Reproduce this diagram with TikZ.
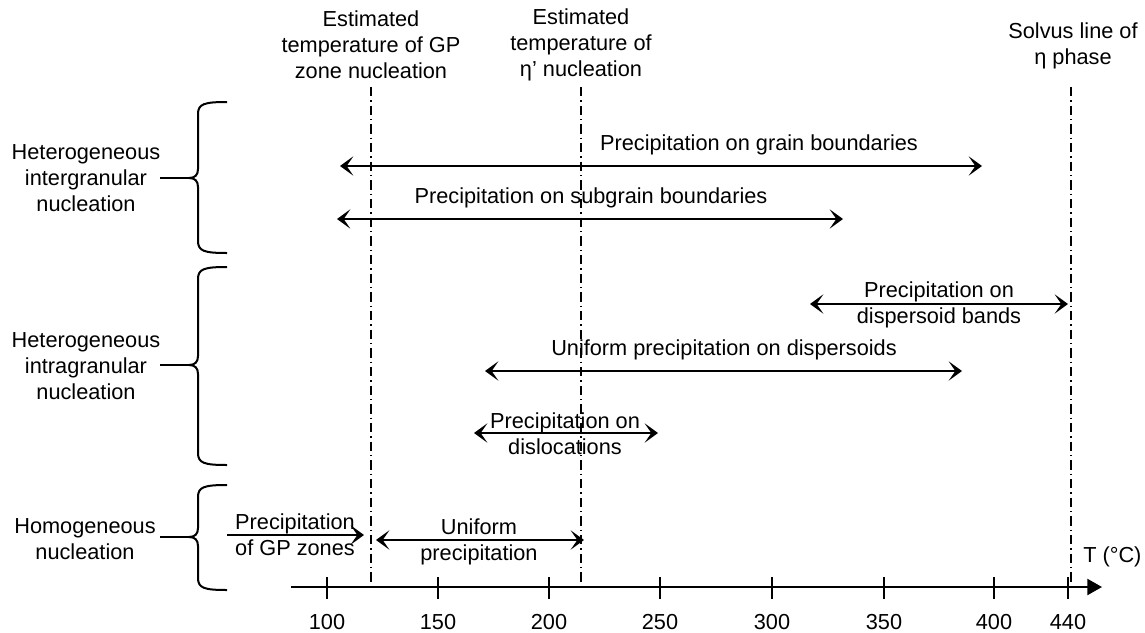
\documentclass[tikz,border=0pt]{standalone}
\usepackage{fontspec}
\setmainfont{Liberation Sans}
\usetikzlibrary{arrows.meta}
\tikzset{
  lbl/.style={align=center,inner sep=0pt,font=\fontsize{16.3}{19.5}\selectfont},
  tipA/.tip={Stealth[length=10pt,width=14.5pt,inset=5pt]},
  parr/.style={line width=1.6pt,tipA-tipA},
  rarr/.style={line width=1.6pt,-tipA},
  axisline/.style={line width=1.6pt,-{Triangle[length=11pt,width=12pt]}},
  tickline/.style={line width=1.4pt},
  guide/.style={line width=1.2pt,dash pattern=on 7pt off 3pt on 1pt off 3pt},
  bracestyle/.style={line width=1.5pt,line join=round}
}
\newcommand\mybrace[3]{%
  \draw[bracestyle] (227,#1) .. controls (204,#1) and (198,#1+2) .. (198,#1+12)
    -- (198,#2-9) .. controls (198,#2-3) and (195,#2) .. (189,#2)
    .. controls (195,#2) and (198,#2+3) .. (198,#2+9)
    -- (198,#3-12) .. controls (198,#3-2) and (204,#3) .. (227,#3);
  \draw[bracestyle] (160,#2) -- (190,#2);}
\begin{document}
\begin{tikzpicture}[x=0.75pt,y=-0.75pt]
\useasboundingbox (0,0) rectangle (1145,632);
% top labels
\node[lbl] (gpT) at (371,45) {Estimated\\temperature of GP\\zone nucleation};
\node[lbl] (etaT) at (581,45) {Estimated\\temperature of\\η’ nucleation};
\node[lbl] (solT) at (1073,46) {Solvus line of\\η phase};
% guide lines
\coordinate (gpA) at (371,87); \coordinate (gpB) at (371,587);
\coordinate (etaA) at (581,87); \coordinate (etaB) at (581,587);
\coordinate (solA) at (1071,87); \coordinate (solB) at (1071,587);
\draw[guide] (gpA) -- (gpB);
\draw[guide] (etaA) -- (etaB);
\draw[guide] (solA) -- (solB);
% braces and left labels
\mybrace{102}{178}{253}
\mybrace{267}{365}{465}
\mybrace{485}{537}{590}
\node[lbl] (inter) at (86,178) {Heterogeneous\\intergranular\\nucleation};
\node[lbl] (intra) at (86,366) {Heterogeneous\\intragranular\\nucleation};
\node[lbl] (homo) at (85,539) {Homogeneous\\nucleation};
% arrows
\coordinate (g1) at (340,166); \coordinate (g2) at (982,166);
\draw[parr] (g1) -- (g2);
\node[lbl] (gL) at (759,145) {Precipitation on grain boundaries};
\coordinate (s1) at (337,219); \coordinate (s2) at (843,219);
\draw[parr] (s1) -- (s2);
\node[lbl] (sL) at (591,198) {Precipitation on subgrain boundaries};
\coordinate (d1) at (810,304); \coordinate (d2) at (1068,304);
\draw[parr] (d1) -- (d2);
\node[lbl] (dL) at (939,304.5) {Precipitation on\\dispersoid bands};
\coordinate (u1) at (485,371); \coordinate (u2) at (962,371);
\draw[parr] (u1) -- (u2);
\node[lbl] (uL) at (724,350) {Uniform precipitation on dispersoids};
\coordinate (l1) at (474,433); \coordinate (l2) at (658,433);
\draw[parr] (l1) -- (l2);
\node[lbl] (lL) at (565,434) {Precipitation on\\dislocations};
\coordinate (p1) at (227,535); \coordinate (p2) at (364,535);
\draw[rarr] (p1) -- (p2);
\node[lbl] (pL) at (295,535) {Precipitation\\of GP zones};
\coordinate (h1) at (376,540); \coordinate (h2) at (584,540);
\draw[parr] (h1) -- (h2);
\node[lbl] (hL) at (479,541.5) {Uniform\\precipitation};
% axis
\coordinate (ax1) at (291,587); \coordinate (ax2) at (1102,587);
\draw[axisline] (ax1) -- (ax2);
\foreach \x/\t in {327/100,438/150,549/200,660/250,772/300,884/350,994/400,1068/440}{
  \draw[tickline] (\x,577) -- (\x,599);
  \node[lbl] (tick\t) at (\x,622) {\t};
}
\node[lbl,anchor=west] (Tlab) at (1083,557) {T (°C)};
\end{tikzpicture}
\end{document}
